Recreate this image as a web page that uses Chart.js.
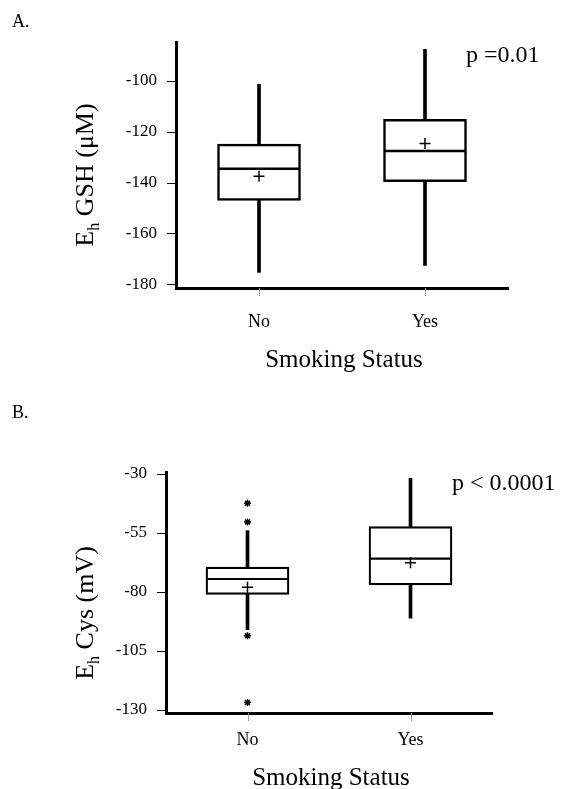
<!DOCTYPE html>
<html>
<head>
<meta charset="utf-8">
<script src="https://cdn.jsdelivr.net/npm/chart.js@4/dist/chart.umd.min.js"></script>
<style>
  body { margin: 0; background: #fff; }
  #wrap { position: relative; width: 561px; height: 789px; }
  canvas { position: absolute; left: 0; display: block; }
</style>
</head>
<body>
<div id="wrap">
  <canvas id="gsh-chart" width="561" height="395" style="top:0"></canvas>
  <canvas id="cys-chart" width="561" height="394" style="top:395px"></canvas>
</div>
<script>
const categories = ['No', 'Yes'];

// A. Eh GSH (uM)
const gshLow = [-175.4, -172.6];
const gshQ1 = [-147, -139.7];
const gshMedian = [-134.6, -127.6];
const gshQ3 = [-124.9, -115.1];
const gshHigh = [-101.4, -87.6];
const gshMean = [-137.5, -124.6];
const gshTicks = [-180, -160, -140, -120, -100];

// B. Eh Cys (mV)
const cysLow = [-96, -91.1];
const cysQ1 = [-81, -77];
const cysMedian = [-74.5, -65.9];
const cysQ3 = [-69.5, -52.3];
const cysHigh = [-54, -31.8];
const cysMean = [-78, -67.6];
const cysOutliersNo = [-42.4, -50.3, -98.6, -126.9];
const cysTicks = [-130, -105, -80, -55, -30];

Chart.defaults.font.family = '"Liberation Serif", "Times New Roman", serif';
Chart.defaults.color = '#000';

// panel letter, p value, axis titles (with subscript h), tick marks
const panelText = {
    id: 'panelText',
    afterDraw(chart, args, opts) {
        const ctx = chart.ctx;
        const yScale = chart.scales.y;
        const xScale = chart.scales.x;
        const area = chart.chartArea;
        ctx.save();

        // short tick marks outside the axes
        ctx.strokeStyle = '#000';
        ctx.lineWidth = 1;
        opts.ticks.forEach(v => {
            const py = Math.round(yScale.getPixelForValue(v)) + 0.5;
            ctx.beginPath();
            ctx.moveTo(area.left - 9, py);
            ctx.lineTo(area.left, py);
            ctx.stroke();
        });
        ctx.strokeStyle = '#999';
        categories.forEach((c, i) => {
            const px = Math.round(xScale.getPixelForValue(i)) + 0.5;
            ctx.beginPath();
            ctx.moveTo(px, area.bottom);
            ctx.lineTo(px, area.bottom + 8);
            ctx.stroke();
        });

        ctx.fillStyle = '#000';
        ctx.textBaseline = 'alphabetic';

        ctx.textAlign = 'left';
        ctx.font = '18px "Liberation Serif"';
        ctx.fillText(opts.letter, 12, opts.letterY);

        ctx.font = '24px "Liberation Serif"';
        ctx.fillText(opts.pText, opts.pX, opts.pY);

        ctx.textAlign = 'center';
        ctx.font = '25px "Liberation Serif"';
        ctx.fillText('Smoking Status', opts.xTitleX, opts.xTitleY);

        // rotated y title
        ctx.translate(opts.yTitleX, opts.yTitleY);
        ctx.rotate(-Math.PI / 2);
        ctx.textAlign = 'left';
        const big = '26px "Liberation Serif"';
        const small = '16px "Liberation Serif"';
        ctx.font = big;
        const wE = ctx.measureText('E').width;
        const wRest = ctx.measureText(' ' + opts.yTitle).width;
        ctx.font = small;
        const wH = ctx.measureText('h').width;
        let x = -(wE + wH + wRest) / 2;
        ctx.font = big;
        ctx.fillText('E', x, 0);
        x += wE;
        ctx.font = small;
        ctx.fillText('h', x, 6);
        x += wH;
        ctx.font = big;
        ctx.fillText(' ' + opts.yTitle, x, 0);
        ctx.restore();
    }
};

function boxDatasets(low, q1, median, q3, high, mean, lineW) {
    return [
        {
            type: 'bar',
            data: categories.map((c, i) => [q1[i], q3[i]]),
            backgroundColor: '#fff',
            borderColor: '#000',
            borderWidth: lineW,
            borderSkipped: false,
            barThickness: 83,
            grouped: false,
            order: 3
        },
        {
            type: 'bar',
            data: categories.map((c, i) => [low[i], q1[i]]),
            backgroundColor: '#000',
            borderWidth: 0,
            barThickness: 3,
            grouped: false,
            order: 4
        },
        {
            type: 'bar',
            data: categories.map((c, i) => [q3[i], high[i]]),
            backgroundColor: '#000',
            borderWidth: 0,
            barThickness: 3,
            grouped: false,
            order: 4
        },
        {
            type: 'line',
            data: median,
            showLine: false,
            pointStyle: 'line',
            pointRadius: 40,
            pointBorderColor: '#000',
            pointBorderWidth: lineW,
            order: 1
        },
        {
            type: 'line',
            data: mean,
            showLine: false,
            pointStyle: 'cross',
            pointRadius: 5.5,
            pointBorderColor: '#000',
            pointBorderWidth: 1.5,
            order: 0
        }
    ];
}

function axes(yMin, yMax, yTicks, yWidth, xHeight, xPad) {
    return {
        x: {
            type: 'category',
            labels: categories,
            offset: true,
            grid: { display: false, offset: false, tickLength: 7 },
            border: { display: true, color: '#000', width: 3 },
            ticks: { font: { size: 18 }, padding: xPad, color: '#000' },
            afterFit: s => { s.height = xHeight; }
        },
        y: {
            type: 'linear',
            min: yMin,
            max: yMax,
            grid: { display: false, tickLength: 9 },
            border: { display: true, color: '#000', width: 3 },
            ticks: { font: { size: 17 }, padding: 10, color: '#000' },
            afterBuildTicks: a => { a.ticks = yTicks.map(v => ({ value: v })); },
            afterFit: s => { s.width = yWidth; }
        }
    };
}

// A. GSH chart
const gshCtx = document.getElementById('gsh-chart').getContext('2d');
const gshChart = new Chart(gshCtx, {
    type: 'bar',
    data: {
        labels: categories,
        datasets: boxDatasets(gshLow, gshQ1, gshMedian, gshQ3, gshHigh, gshMean, 2.5)
    },
    options: {
        responsive: false,
        animation: false,
        layout: { padding: { left: 0, top: 42, right: 53, bottom: 7 } },
        scales: axes(-181.5, -84.9, gshTicks, 176, 100, 16),
        plugins: {
            legend: { display: false },
            tooltip: { enabled: false },
            panelText: {
                ticks: gshTicks,
                letter: 'A.', letterY: 27,
                pText: 'p =0.01', pX: 466, pY: 62,
                xTitleX: 344, xTitleY: 367,
                yTitle: 'GSH (\u03bcM)', yTitleX: 93, yTitleY: 175
            }
        }
    },
    plugins: [panelText]
});

// B. Cys chart
const cysDatasets = boxDatasets(cysLow, cysQ1, cysMedian, cysQ3, cysHigh, cysMean, 2.2);
cysDatasets.push({
    type: 'line',
    data: cysOutliersNo.map(v => ({ x: 'No', y: v })),
    showLine: false,
    pointStyle: 'star',
    pointRadius: 3.5,
    pointBorderColor: '#000',
    pointBorderWidth: 1.5,
    order: 0
});
const cysCtx = document.getElementById('cys-chart').getContext('2d');
const cysChart = new Chart(cysCtx, {
    type: 'bar',
    data: {
        labels: categories,
        datasets: cysDatasets
    },
    options: {
        responsive: false,
        animation: false,
        layout: { padding: { left: 0, top: 77, right: 69, bottom: 6 } },
        scales: axes(-131.3, -29.15, cysTicks, 166, 70, 9),
        plugins: {
            legend: { display: false },
            tooltip: { enabled: false },
            panelText: {
                ticks: cysTicks,
                letter: 'B.', letterY: 23,
                pText: 'p < 0.0001', pX: 452, pY: 95,
                xTitleX: 331, xTitleY: 390,
                yTitle: 'Cys (mV)', yTitleX: 93, yTitleY: 218
            }
        }
    },
    plugins: [panelText]
});
</script>
</body>
</html>
